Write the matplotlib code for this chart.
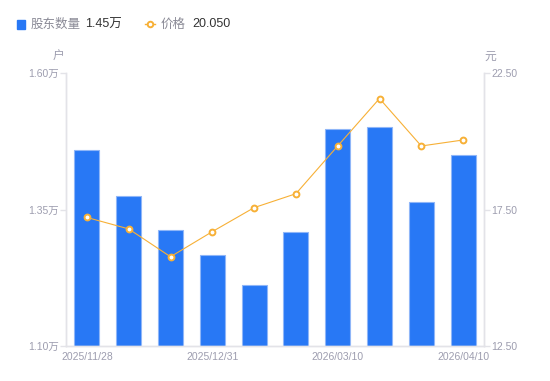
import matplotlib
matplotlib.use("Agg")
import matplotlib.pyplot as plt
from matplotlib.lines import Line2D
from matplotlib.patches import Rectangle

plt.rcParams['font.family'] = ['Liberation Sans', 'Noto Sans CJK SC', 'DejaVu Sans']

# data
dates = ['2025/11/28', '', '', '2025/12/31', '', '', '2026/03/10', '', '', '2026/04/10']
holders = [1.460, 1.374, 1.312, 1.266, 1.212, 1.309, 1.498, 1.502, 1.363, 1.450]   # 万户
price = [17.21, 16.79, 15.77, 16.69, 17.57, 18.08, 19.83, 21.57, 19.83, 20.05]     # 元
left_ticks = [1.10, 1.35, 1.60]
right_ticks = [12.50, 17.50, 22.50]

bar_col = '#2878f5'
line_col = '#f7b036'
grey = '#9d9daf'
axis_col = '#e3e3e8'

fig = plt.figure(figsize=(5.5, 3.81), dpi=100)
ax = fig.add_axes([0.12, 0.092, 0.76, 0.716])
ax2 = ax.twinx()

x = list(range(len(holders)))
ax.bar(x, holders, width=0.6, color=bar_col, edgecolor='#8fb6f8', linewidth=0.8, zorder=2)
ax.set_xlim(-0.5, len(holders) - 0.5)
ax.set_ylim(left_ticks[0], left_ticks[-1])
ax.set_yticks(left_ticks)
ax.set_yticklabels([f'{v:.2f}万' for v in left_ticks])
ax.set_xticks(x)
ax.set_xticklabels(dates)

ax2.plot(x, price, color=line_col, lw=0.8, marker='o', ms=4.2, mfc='white',
         mec=line_col, mew=1.4, zorder=3)
ax2.set_ylim(right_ticks[0], right_ticks[-1])
ax2.set_yticks(right_ticks)
ax2.set_yticklabels([f'{v:.2f}' for v in right_ticks])

for a in (ax, ax2):
    a.spines['top'].set_visible(False)
    for s in ('left', 'right', 'bottom'):
        a.spines[s].set_color(axis_col)
        a.spines[s].set_linewidth(1.0)
    a.tick_params(axis='y', colors=axis_col, labelcolor=grey, labelsize=7.5, length=4, width=1, pad=1)
    a.tick_params(axis='x', length=0, labelcolor=grey, labelsize=7.5, pad=4)
ax.set_zorder(ax2.get_zorder() - 1)
ax2.patch.set_visible(False)

fig.text(0.106, 0.843, '户', fontsize=8.5, color=grey, ha='center')
fig.text(0.892, 0.843, '元', fontsize=8.5, color=grey, ha='center')

# legend row
fig.patches.append(Rectangle((0.031, 0.925), 0.015, 0.022, transform=fig.transFigure,
                             color=bar_col, figure=fig))
fig.text(0.056, 0.936, '股东数量', fontsize=9, color='#8a8a96', va='center')
fig.text(0.155, 0.936, f'{holders[-1]:.2f}万', fontsize=9, color='#333333', va='center')
fig.lines.append(Line2D([0.263, 0.282], [0.937, 0.937], transform=fig.transFigure,
                        color=line_col, lw=1, marker='o', markevery=[0], ms=0))
fig.lines.append(Line2D([0.2725], [0.937], transform=fig.transFigure, color=line_col,
                        marker='o', ms=4, mfc='white', mew=1.4))
fig.text(0.292, 0.936, '价格', fontsize=9, color='#8a8a96', va='center')
fig.text(0.349, 0.936, f'{price[-1]:.3f}', fontsize=9, color='#333333', va='center')

fig.savefig('out.png', dpi=100)
